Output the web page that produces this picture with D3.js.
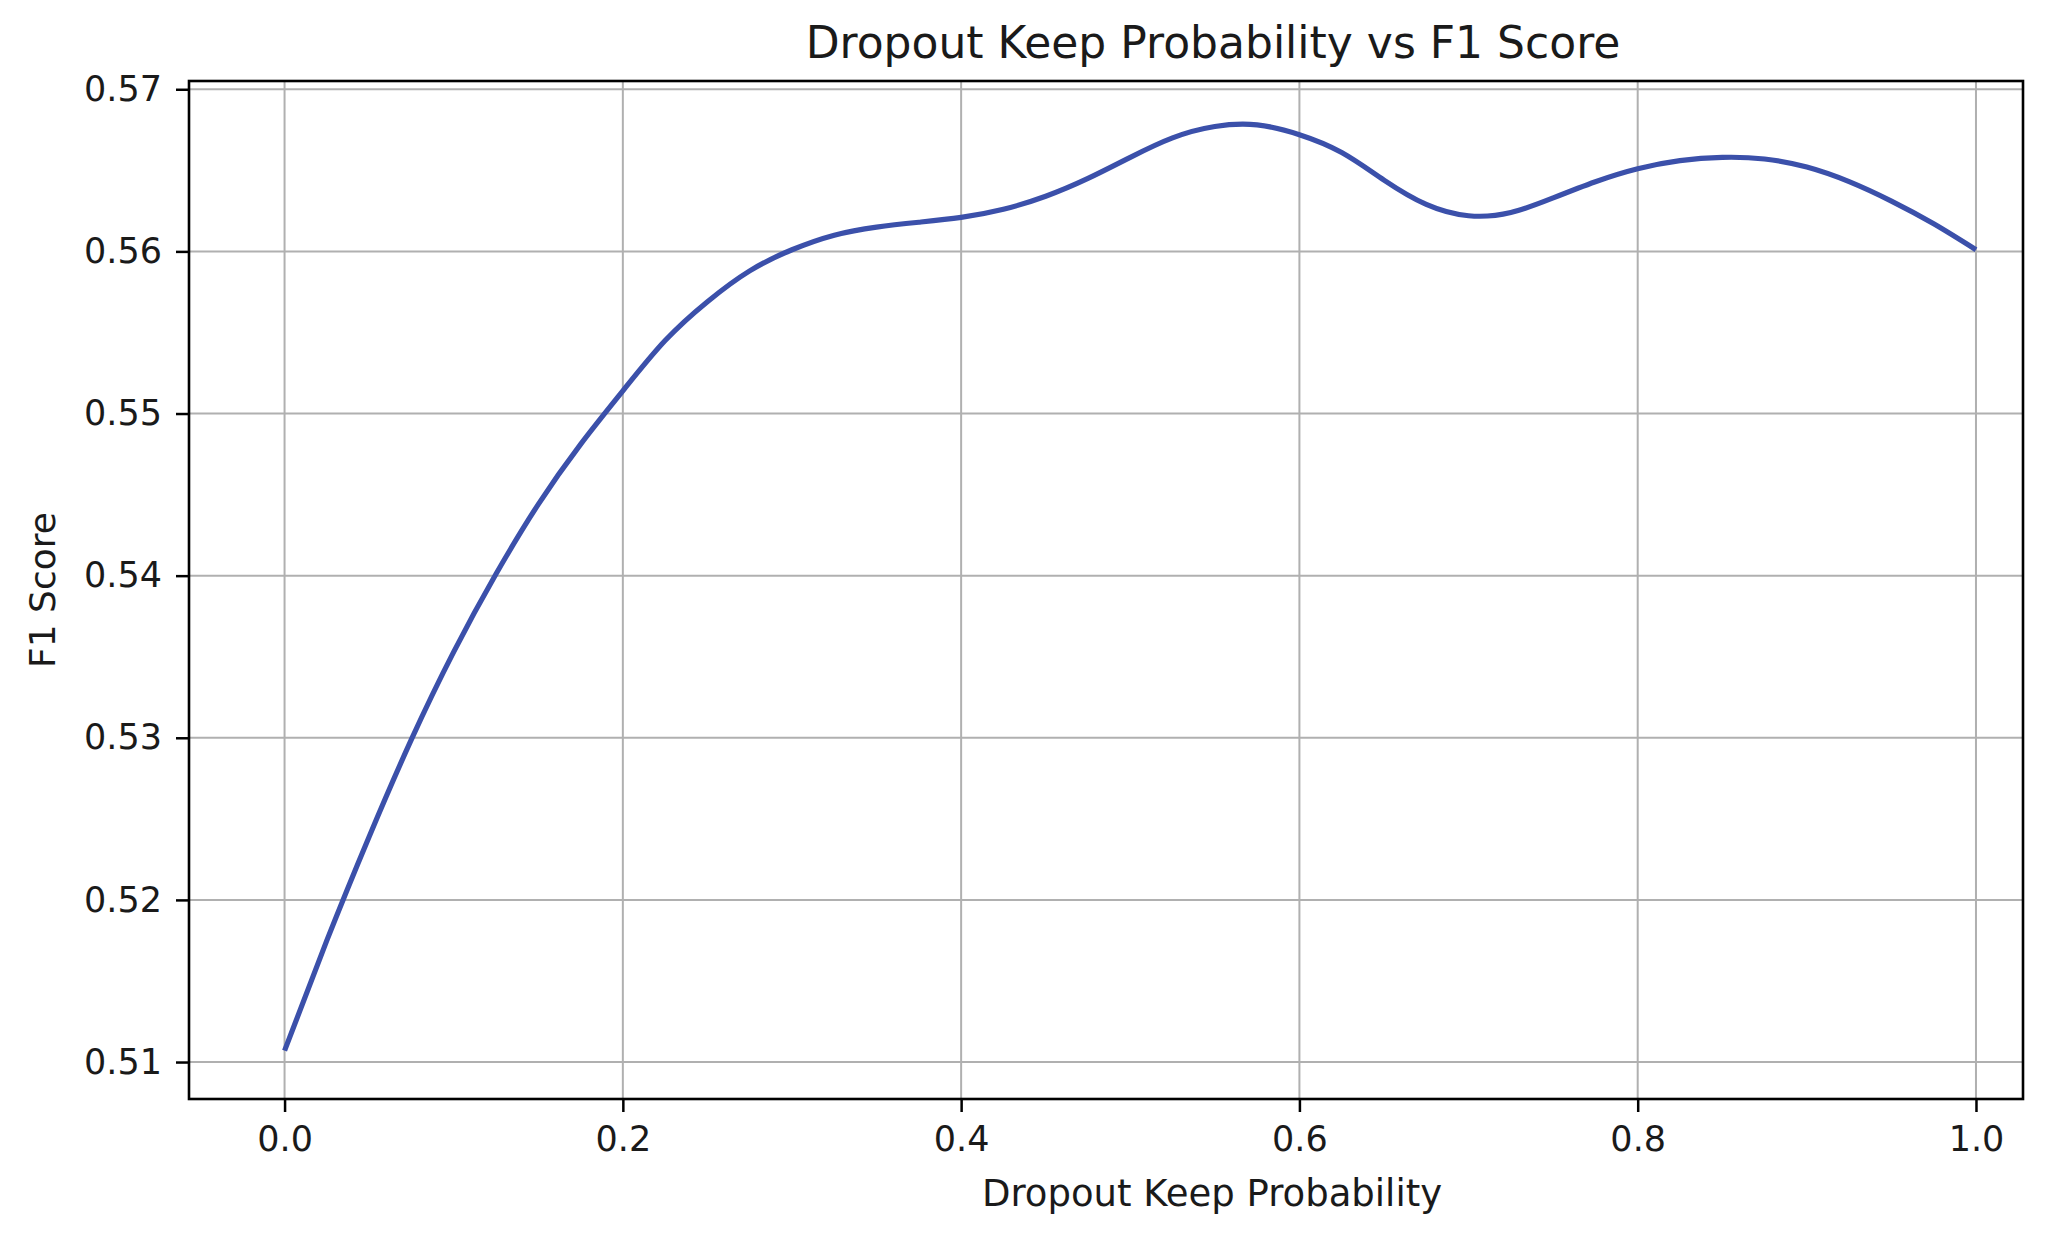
<!DOCTYPE html>
<html>
<head>
<meta charset="utf-8">
<script src="https://cdn.jsdelivr.net/npm/d3@7"></script>
<style>
  html, body { margin: 0; padding: 0; background: #ffffff; }
  svg { display: block; }
  text { font-family: "DejaVu Sans", sans-serif; fill: #1a1a1a; }
</style>
</head>
<body>
<svg id="chart" width="2052" height="1236"></svg>
<script>
// ---- Data ----
const keepProb = [0, 0.025, 0.05, 0.075, 0.1, 0.125, 0.15, 0.175, 0.2, 0.225, 0.25, 0.275, 0.3, 0.325, 0.35, 0.375, 0.4, 0.425, 0.45, 0.475, 0.5, 0.525, 0.55, 0.575, 0.6, 0.625, 0.65, 0.675, 0.7, 0.725, 0.75, 0.775, 0.8, 0.825, 0.85, 0.875, 0.9, 0.925, 0.95, 0.975, 1.0];
const f1Score = [0.5107, 0.5175, 0.5239, 0.5299, 0.5353, 0.5401, 0.5444, 0.5481, 0.5514, 0.5545, 0.5569, 0.5588, 0.5601, 0.5610, 0.5615, 0.5618, 0.5621, 0.5626, 0.5634, 0.5645, 0.5658, 0.5670, 0.5677, 0.5678, 0.5672, 0.5661, 0.5644, 0.5629, 0.5622, 0.5624, 0.5633, 0.5643, 0.5651, 0.5656, 0.5658, 0.5657, 0.5652, 0.5643, 0.5631, 0.5617, 0.5601];
const xTicks = [0.0, 0.2, 0.4, 0.6, 0.8, 1.0];
const xTickLabels = ["0.0", "0.2", "0.4", "0.6", "0.8", "1.0"];
const yTicks = [0.51, 0.52, 0.53, 0.54, 0.55, 0.56, 0.57];
const yTickLabels = ["0.51", "0.52", "0.53", "0.54", "0.55", "0.56", "0.57"];
const titleText = "Dropout Keep Probability vs F1 Score";
const xLabelText = "Dropout Keep Probability";
const yLabelText = "F1 Score";

// ---- Layout ----
const plot = { left: 189, right: 2023, top: 81, bottom: 1099 };
const svg = d3.select("#chart");

const x = d3.scaleLinear().domain([-0.0565, 1.0278]).range([plot.left, plot.right]);
const y = d3.scaleLinear().domain([0.50772, 0.57051]).range([plot.bottom, plot.top]);

// grid
const grid = svg.append("g");
grid.selectAll("line.vx").data(xTicks).enter().append("line")
  .attr("x1", d => x(d)).attr("x2", d => x(d))
  .attr("y1", plot.top).attr("y2", plot.bottom)
  .attr("stroke", "#b0b0b0").attr("stroke-width", 2);
grid.selectAll("line.hy").data(yTicks).enter().append("line")
  .attr("x1", plot.left).attr("x2", plot.right)
  .attr("y1", d => y(d)).attr("y2", d => y(d))
  .attr("stroke", "#b0b0b0").attr("stroke-width", 2);

// curve
const pts = keepProb.map((k, i) => [k, f1Score[i]]);
const line = d3.line().x(d => x(d[0])).y(d => y(d[1])).curve(d3.curveNatural);
svg.append("path").datum(pts)
  .attr("d", line)
  .attr("fill", "none")
  .attr("stroke", "#3b50aa")
  .attr("stroke-width", 5.2)
  .attr("stroke-linejoin", "round");

// axes via d3 axis generators
const xAxis = d3.axisBottom(x).tickValues(xTicks)
  .tickFormat((d, i) => xTickLabels[i]).tickSize(13).tickPadding(14).tickSizeOuter(0);
const gx = svg.append("g").attr("transform", `translate(0,${plot.bottom})`).call(xAxis);
gx.select(".domain").remove();
gx.selectAll(".tick line").attr("stroke", "#000").attr("stroke-width", 2.5);
gx.selectAll(".tick text").attr("font-size", 35).attr("fill", "#1a1a1a")
  .attr("font-family", "DejaVu Sans, sans-serif");

const yAxis = d3.axisLeft(y).tickValues(yTicks)
  .tickFormat((d, i) => yTickLabels[i]).tickSize(13).tickPadding(14).tickSizeOuter(0);
const gy = svg.append("g").attr("transform", `translate(${plot.left},0)`).call(yAxis);
gy.select(".domain").remove();
gy.selectAll(".tick line").attr("stroke", "#000").attr("stroke-width", 2.5);
gy.selectAll(".tick text").attr("font-size", 35).attr("fill", "#1a1a1a")
  .attr("font-family", "DejaVu Sans, sans-serif");

// frame
svg.append("rect")
  .attr("x", plot.left).attr("y", plot.top)
  .attr("width", plot.right - plot.left).attr("height", plot.bottom - plot.top)
  .attr("fill", "none").attr("stroke", "#000").attr("stroke-width", 2.6);

// title and labels
svg.append("text").attr("x", 1213).attr("y", 58)
  .attr("text-anchor", "middle").attr("font-size", 44).text(titleText);
svg.append("text").attr("x", 1212).attr("y", 1206)
  .attr("text-anchor", "middle").attr("font-size", 37).text(xLabelText);
svg.append("text").attr("transform", `translate(55,${(plot.top + plot.bottom) / 2}) rotate(-90)`)
  .attr("text-anchor", "middle").attr("font-size", 36).text(yLabelText);
</script>
</body>
</html>
